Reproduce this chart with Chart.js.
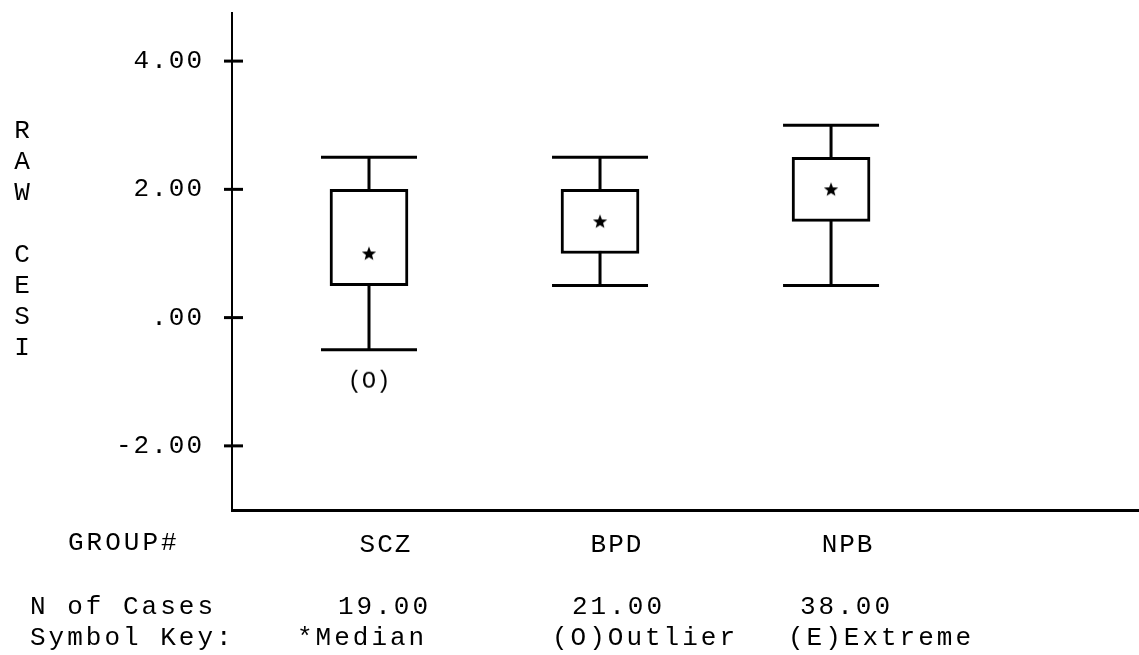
<!DOCTYPE html>
<html>
<head>
<meta charset="utf-8">
<script src="https://cdn.jsdelivr.net/npm/chart.js@4/dist/chart.umd.min.js"></script>
<style>
  html, body { margin: 0; padding: 0; background: #fff; }
  #wrap { width: 1139px; height: 655px; position: relative; }
</style>
</head>
<body>
<div id="wrap"><canvas id="boxChart"></canvas></div>
<script>
// Data
const groups = ['SCZ', 'BPD', 'NPB'];
const whiskerLow = [-0.5, 0.5, 0.5];
const q1 = [0.5, 1.0, 1.5];
const medians = [1.0, 1.5, 2.0];
const q3 = [2.0, 2.0, 2.5];
const whiskerHigh = [2.5, 2.5, 3.0];
const outliers = [[-1.0], [], []];
const nCases = ['19.00', '21.00', '38.00'];
const yTicks = [-2, 0, 2, 4];
const yTitle = 'RAW CESI';

const FONT = '"Liberation Mono", "Courier New", monospace';

// marker images
function makeStar() {
    const c = document.createElement('canvas');
    c.width = 18; c.height = 18;
    const g = c.getContext('2d');
    g.fillStyle = '#000';
    g.beginPath();
    for (let i = 0; i < 10; i++) {
        const r = i % 2 === 0 ? 7.5 : 3.2;
        const a = -Math.PI / 2 + i * Math.PI / 5;
        const px = 9 + r * Math.cos(a), py = 9.5 + r * Math.sin(a);
        if (i === 0) g.moveTo(px, py); else g.lineTo(px, py);
    }
    g.closePath();
    g.fill();
    return c;
}
function makeOutlier() {
    const c = document.createElement('canvas');
    c.width = 52; c.height = 34;
    const g = c.getContext('2d');
    g.fillStyle = '#000';
    g.font = '24px ' + FONT;
    g.textAlign = 'center';
    g.textBaseline = 'middle';
    g.fillText('(O)', 26, 17);
    return c;
}

const whiskerPts = [];
groups.forEach((g, i) => {
    whiskerPts.push({x: i + 1, y: whiskerLow[i]}, {x: i + 1, y: whiskerHigh[i]}, {x: i + 1, y: null});
});
const capPts = [];
groups.forEach((g, i) => {
    capPts.push({x: i + 1, y: whiskerLow[i]}, {x: i + 1, y: whiskerHigh[i]});
});
const outlierPts = [];
outliers.forEach((list, i) => list.forEach(v => outlierPts.push({x: i + 1, y: v})));

const extrasPlugin = {
    id: 'extras',
    beforeUpdate(chart) { chart.ctx.letterSpacing = '2px'; },
    beforeDraw(chart) { chart.ctx.letterSpacing = '2px'; },
    afterDraw(chart) {
        const ctx = chart.ctx;
        const yScale = chart.scales.y;
        const axisX = chart.chartArea.left;
        ctx.save();
        ctx.strokeStyle = '#000';
        ctx.lineWidth = 3;
        // cross tick marks on the y axis
        yTicks.forEach(v => {
            const py = yScale.getPixelForValue(v);
            ctx.beginPath();
            ctx.moveTo(axisX - 8, py);
            ctx.lineTo(axisX + 11, py);
            ctx.stroke();
        });
        ctx.fillStyle = '#000';
        ctx.font = '26px ' + FONT;
        ctx.letterSpacing = '0px';
        ctx.textAlign = 'center';
        ctx.textBaseline = 'middle';
        // stacked y title
        yTitle.split('').forEach((ch, i) => {
            ctx.fillText(ch, 22, 131 + i * 31);
        });
        ctx.letterSpacing = '3px';
        ctx.textAlign = 'left';
        ctx.fillText('GROUP#', 68, 543);
        ctx.fillText('N of Cases', 30, 607);
        ctx.fillText('Symbol Key:', 30, 638);
        const nX = [338, 572, 800];
        nCases.forEach((t, i) => ctx.fillText(t, nX[i], 607));
        ctx.fillText('*Median', 297, 638);
        ctx.fillText('(O)Outlier', 552, 638);
        ctx.fillText('(E)Extreme', 788, 638);
        ctx.restore();
    }
};

const ctx = document.getElementById('boxChart').getContext('2d');
new Chart(ctx, {
    type: 'bar',
    data: {
        datasets: [
            {
                type: 'line',
                data: whiskerPts,
                borderColor: '#000',
                borderWidth: 3,
                pointRadius: 0,
                spanGaps: false,
                order: 4
            },
            {
                type: 'scatter',
                data: capPts,
                pointStyle: 'line',
                pointRadius: 48,
                borderColor: '#000',
                pointBorderWidth: 3,
                order: 3
            },
            {
                type: 'bar',
                data: groups.map((g, i) => ({x: i + 1, y: [q1[i], q3[i]]})),
                backgroundColor: '#fff',
                borderColor: '#000',
                borderWidth: 3,
                borderSkipped: false,
                barThickness: 78,
                order: 2
            },
            {
                type: 'scatter',
                data: groups.map((g, i) => ({x: i + 1, y: medians[i]})),
                pointStyle: makeStar(),
                order: 1
            },
            {
                type: 'scatter',
                data: outlierPts,
                pointStyle: makeOutlier(),
                order: 1
            }
        ]
    },
    options: {
        responsive: true,
        maintainAspectRatio: false,
        animation: false,
        events: [],
        layout: { autoPadding: false, padding: { top: 13, left: 0, right: 0, bottom: 0 } },
        plugins: {
            legend: { display: false },
            tooltip: { enabled: false }
        },
        scales: {
            x: {
                type: 'linear',
                min: 0.407,
                max: 4.333,
                offset: false,
                afterBuildTicks: scale => { scale.ticks = groups.map((g, i) => ({value: i + 1})); },
                afterFit: scale => {
                    scale.height = 145;
                    scale.paddingLeft = 0;
                    scale.paddingRight = 0;
                },
                grid: { display: false, drawTicks: false, offset: false },
                border: { display: true, color: '#000', width: 3 },
                ticks: {
                    callback: v => groups[v - 1] || '',
                    color: '#000',
                    font: { family: FONT, size: 26 },
                    padding: 20,
                    labelOffset: 17,
                    maxRotation: 0
                }
            },
            y: {
                min: -3,
                max: 4.75,
                afterBuildTicks: scale => { scale.ticks = yTicks.map(v => ({value: v})); },
                afterFit: scale => {
                    scale.width = 232;
                    scale.paddingTop = 0;
                    scale.paddingBottom = 0;
                },
                grid: { display: false, drawTicks: false },
                border: { display: true, color: '#000', width: 2 },
                ticks: {
                    callback: v => v === 0 ? '.00' : v.toFixed(2),
                    color: '#000',
                    font: { family: FONT, size: 26 },
                    padding: 28
                }
            }
        }
    },
    plugins: [extrasPlugin]
});
</script>
</body>
</html>
